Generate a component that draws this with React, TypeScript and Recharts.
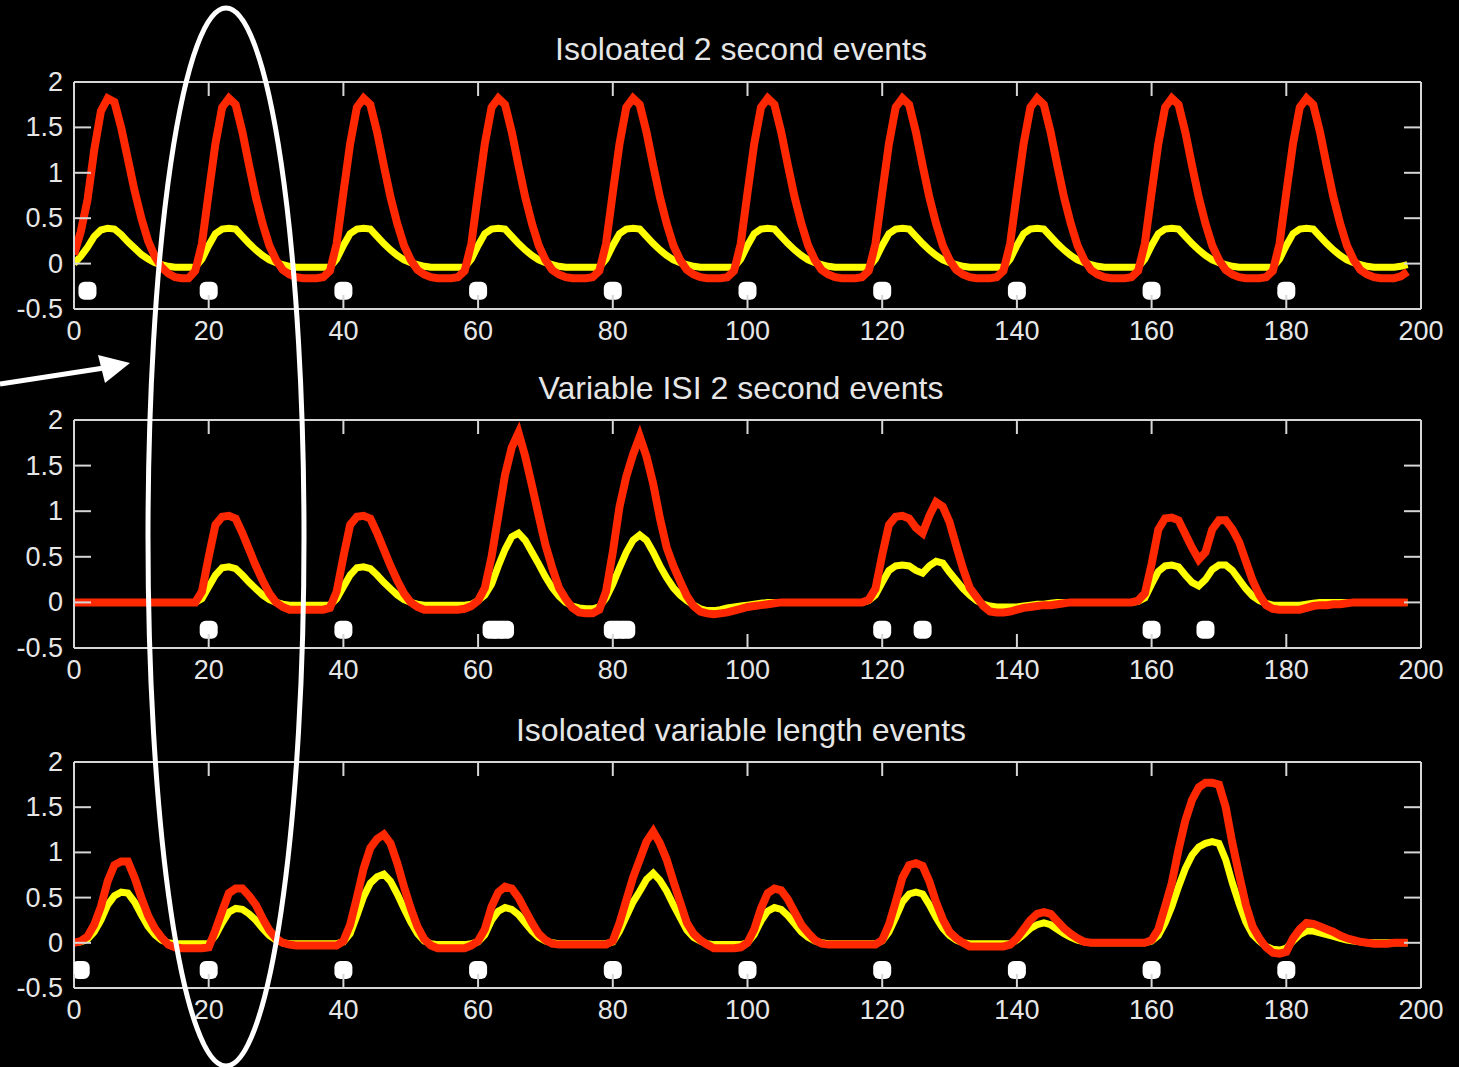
import React from 'react';
import { ComposedChart, Line, Scatter, XAxis, YAxis } from 'recharts';

// sample times are the array index (0..198), one value per second
const RED_ISOLATED = [
  0.1, 0.35, 0.7, 1.25, 1.68, 1.82, 1.78, 1.5, 1.15, 0.8, 0.5, 0.25, 0.08, -0.04, -0.11, -0.15, -0.16, -0.16, -0.08, 0.22,
  0.78, 1.32, 1.72, 1.82, 1.75, 1.45, 1.08, 0.73, 0.44, 0.2, 0.04, -0.07, -0.12, -0.15, -0.16, -0.16, -0.16, -0.15, -0.08, 0.22,
  0.78, 1.32, 1.72, 1.82, 1.75, 1.45, 1.08, 0.73, 0.44, 0.2, 0.04, -0.07, -0.12, -0.15, -0.16, -0.16, -0.16, -0.15, -0.08, 0.22,
  0.78, 1.32, 1.72, 1.82, 1.75, 1.45, 1.08, 0.73, 0.44, 0.2, 0.04, -0.07, -0.12, -0.15, -0.16, -0.16, -0.16, -0.15, -0.08, 0.22,
  0.78, 1.32, 1.72, 1.82, 1.75, 1.45, 1.08, 0.73, 0.44, 0.2, 0.04, -0.07, -0.12, -0.15, -0.16, -0.16, -0.16, -0.15, -0.08, 0.22,
  0.78, 1.32, 1.72, 1.82, 1.75, 1.45, 1.08, 0.73, 0.44, 0.2, 0.04, -0.07, -0.12, -0.15, -0.16, -0.16, -0.16, -0.15, -0.08, 0.22,
  0.78, 1.32, 1.72, 1.82, 1.75, 1.45, 1.08, 0.73, 0.44, 0.2, 0.04, -0.07, -0.12, -0.15, -0.16, -0.16, -0.16, -0.15, -0.08, 0.22,
  0.78, 1.32, 1.72, 1.82, 1.75, 1.45, 1.08, 0.73, 0.44, 0.2, 0.04, -0.07, -0.12, -0.15, -0.16, -0.16, -0.16, -0.15, -0.08, 0.22,
  0.78, 1.32, 1.72, 1.82, 1.75, 1.45, 1.08, 0.73, 0.44, 0.2, 0.04, -0.07, -0.12, -0.15, -0.16, -0.16, -0.16, -0.15, -0.08, 0.22,
  0.78, 1.32, 1.72, 1.82, 1.75, 1.45, 1.08, 0.73, 0.44, 0.2, 0.04, -0.07, -0.12, -0.15, -0.16, -0.16, -0.16, -0.14, -0.09,
];
const YELLOW_ISOLATED = [
  0, 0.08, 0.18, 0.3, 0.37, 0.39, 0.38, 0.32, 0.24, 0.17, 0.1, 0.05, 0.01, -0.01, -0.03, -0.04, -0.04, -0.04, -0.04, 0.05,
  0.2, 0.33, 0.38, 0.39, 0.38, 0.3, 0.22, 0.15, 0.09, 0.04, 0.01, -0.01, -0.03, -0.04, -0.04, -0.04, -0.04, -0.04, -0.04, 0.05,
  0.2, 0.33, 0.38, 0.39, 0.38, 0.3, 0.22, 0.15, 0.09, 0.04, 0.01, -0.01, -0.03, -0.04, -0.04, -0.04, -0.04, -0.04, -0.04, 0.05,
  0.2, 0.33, 0.38, 0.39, 0.38, 0.3, 0.22, 0.15, 0.09, 0.04, 0.01, -0.01, -0.03, -0.04, -0.04, -0.04, -0.04, -0.04, -0.04, 0.05,
  0.2, 0.33, 0.38, 0.39, 0.38, 0.3, 0.22, 0.15, 0.09, 0.04, 0.01, -0.01, -0.03, -0.04, -0.04, -0.04, -0.04, -0.04, -0.04, 0.05,
  0.2, 0.33, 0.38, 0.39, 0.38, 0.3, 0.22, 0.15, 0.09, 0.04, 0.01, -0.01, -0.03, -0.04, -0.04, -0.04, -0.04, -0.04, -0.04, 0.05,
  0.2, 0.33, 0.38, 0.39, 0.38, 0.3, 0.22, 0.15, 0.09, 0.04, 0.01, -0.01, -0.03, -0.04, -0.04, -0.04, -0.04, -0.04, -0.04, 0.05,
  0.2, 0.33, 0.38, 0.39, 0.38, 0.3, 0.22, 0.15, 0.09, 0.04, 0.01, -0.01, -0.03, -0.04, -0.04, -0.04, -0.04, -0.04, -0.04, 0.05,
  0.2, 0.33, 0.38, 0.39, 0.38, 0.3, 0.22, 0.15, 0.09, 0.04, 0.01, -0.01, -0.03, -0.04, -0.04, -0.04, -0.04, -0.04, -0.04, 0.05,
  0.2, 0.33, 0.38, 0.39, 0.38, 0.3, 0.22, 0.15, 0.09, 0.04, 0.01, -0.01, -0.03, -0.04, -0.04, -0.04, -0.04, -0.03, -0.01,
];
const ONSETS_ISOLATED = [2, 20, 40, 60, 80, 100, 120, 140, 160, 180];

const RED_VARIABLE_ISI = [
  0, 0, 0, 0, 0, 0, 0, 0, 0, 0, 0, 0, 0, 0, 0, 0, 0, 0, 0, 0.12,
  0.5, 0.85, 0.94, 0.95, 0.92, 0.76, 0.58, 0.4, 0.24, 0.1, 0, -0.05, -0.08, -0.08, -0.08, -0.08, -0.08, -0.08, -0.06, 0.12,
  0.5, 0.85, 0.94, 0.95, 0.92, 0.76, 0.58, 0.4, 0.24, 0.1, 0, -0.05, -0.08, -0.08, -0.08, -0.08, -0.08, -0.08, -0.07, -0.04,
  0.02, 0.16, 0.5, 0.95, 1.4, 1.7, 1.86, 1.6, 1.28, 0.95, 0.63, 0.38, 0.16, 0.04, -0.06, -0.11, -0.12, -0.12, -0.08, 0.12,
  0.55, 1.05, 1.38, 1.62, 1.82, 1.6, 1.3, 0.92, 0.6, 0.4, 0.23, 0.07, -0.04, -0.1, -0.12, -0.13, -0.12, -0.11, -0.09, -0.07,
  -0.05, -0.04, -0.03, -0.02, -0.01, 0, 0, 0, 0, 0, 0, 0, 0, 0, 0, 0, 0, 0, 0.03, 0.15,
  0.52, 0.85, 0.94, 0.95, 0.92, 0.82, 0.76, 0.95, 1.1, 1.05, 0.88, 0.62, 0.37, 0.16, 0.06, -0.04, -0.1, -0.11, -0.11, -0.1,
  -0.08, -0.06, -0.05, -0.04, -0.03, -0.03, -0.02, -0.01, 0, 0, 0, 0, 0, 0, 0, 0, 0, 0, 0.02, 0.1,
  0.42, 0.8, 0.92, 0.93, 0.9, 0.75, 0.6, 0.47, 0.55, 0.8, 0.9, 0.9, 0.8, 0.66, 0.45, 0.24, 0.08, -0.03, -0.07, -0.08,
  -0.08, -0.08, -0.08, -0.06, -0.04, -0.03, -0.03, -0.02, -0.02, -0.01, 0, 0, 0, 0, 0, 0, 0, 0, 0,
];
const YELLOW_VARIABLE_ISI = [
  0, 0, 0, 0, 0, 0, 0, 0, 0, 0, 0, 0, 0, 0, 0, 0, 0, 0, 0, 0.04,
  0.17, 0.3, 0.38, 0.39, 0.37, 0.3, 0.22, 0.15, 0.08, 0.03, 0, -0.02, -0.03, -0.03, -0.03, -0.03, -0.03, -0.03, -0.03, 0.04,
  0.17, 0.3, 0.38, 0.39, 0.37, 0.3, 0.22, 0.15, 0.08, 0.03, 0, -0.02, -0.03, -0.03, -0.03, -0.03, -0.03, -0.03, -0.03, -0.02,
  0.02, 0.08, 0.2, 0.4, 0.58, 0.72, 0.76, 0.68, 0.55, 0.42, 0.28, 0.16, 0.07, 0, -0.04, -0.06, -0.07, -0.07, -0.05, 0.05,
  0.2, 0.38, 0.55, 0.68, 0.74, 0.68, 0.55, 0.4, 0.27, 0.16, 0.08, 0.02, -0.03, -0.07, -0.09, -0.09, -0.08, -0.06, -0.05, -0.04,
  -0.03, -0.02, -0.01, 0, 0, 0, 0, 0, 0, 0, 0, 0, 0, 0, 0, 0, 0, 0, 0.02, 0.08,
  0.22, 0.35, 0.4, 0.41, 0.4, 0.35, 0.32, 0.4, 0.45, 0.43, 0.33, 0.24, 0.15, 0.08, 0.02, -0.02, -0.04, -0.05, -0.05, -0.05,
  -0.05, -0.04, -0.03, -0.02, -0.02, -0.01, 0, 0, 0, 0, 0, 0, 0, 0, 0, 0, 0, 0, 0.01, 0.05,
  0.2, 0.34, 0.4, 0.41, 0.39, 0.3, 0.22, 0.18, 0.25, 0.36, 0.41, 0.41, 0.35, 0.25, 0.15, 0.07, 0.02, -0.01, -0.03, -0.03,
  -0.03, -0.03, -0.03, -0.02, -0.01, 0, 0, 0, 0, 0, 0, 0, 0, 0, 0, 0, 0, 0, 0,
];
const ONSETS_VARIABLE_ISI = [20, 40, 62, 63, 64, 80, 81, 82, 120, 126, 160, 168];

const RED_VARIABLE_LENGTH = [
  0, 0.02, 0.07, 0.2, 0.4, 0.68, 0.86, 0.9, 0.9, 0.72, 0.5, 0.3, 0.16, 0.06, -0.02, -0.05, -0.06, -0.06, -0.06, -0.06,
  -0.05, 0.14, 0.35, 0.55, 0.6, 0.6, 0.52, 0.42, 0.27, 0.14, 0.05, 0, -0.02, -0.03, -0.03, -0.03, -0.03, -0.03, -0.03, -0.03,
  0.02, 0.2, 0.5, 0.82, 1.05, 1.15, 1.2, 1.1, 0.88, 0.62, 0.38, 0.18, 0.04, -0.03, -0.06, -0.06, -0.06, -0.06, -0.06, -0.03,
  0.02, 0.15, 0.4, 0.56, 0.62, 0.6, 0.5, 0.36, 0.22, 0.1, 0.03, -0.01, -0.02, -0.02, -0.02, -0.02, -0.02, -0.02, -0.02, -0.02,
  0.02, 0.22, 0.47, 0.72, 0.92, 1.12, 1.23, 1.1, 0.92, 0.68, 0.45, 0.22, 0.1, 0.03, -0.02, -0.06, -0.06, -0.06, -0.06, -0.05,
  0, 0.15, 0.38, 0.55, 0.6, 0.58, 0.48, 0.34, 0.2, 0.11, 0.03, -0.01, -0.02, -0.02, -0.02, -0.02, -0.02, -0.02, -0.02, -0.02,
  0.03, 0.2, 0.45, 0.72, 0.86, 0.88, 0.85, 0.68, 0.45, 0.26, 0.12, 0.05, 0, -0.04, -0.04, -0.04, -0.04, -0.04, -0.04, -0.02,
  0.05, 0.15, 0.25, 0.32, 0.34, 0.32, 0.24, 0.16, 0.1, 0.05, 0.01, 0, 0, 0, 0, 0, 0, 0, 0, 0,
  0.03, 0.15, 0.4, 0.66, 1.03, 1.35, 1.58, 1.72, 1.77, 1.77, 1.75, 1.5, 1.1, 0.75, 0.42, 0.18, 0.05, -0.05, -0.11, -0.12,
  -0.1, 0.05, 0.15, 0.22, 0.21, 0.18, 0.15, 0.12, 0.08, 0.05, 0.03, 0.01, 0, -0.01, -0.01, -0.01, 0, 0, 0,
];
const YELLOW_VARIABLE_LENGTH = [
  0, 0.01, 0.04, 0.12, 0.25, 0.42, 0.52, 0.56, 0.55, 0.45, 0.31, 0.18, 0.09, 0.03, 0, -0.01, -0.01, -0.01, -0.01, -0.01,
  -0.01, 0.08, 0.22, 0.34, 0.38, 0.37, 0.32, 0.25, 0.16, 0.08, 0.03, 0, -0.01, -0.01, -0.01, -0.01, -0.01, -0.01, -0.01, -0.01,
  0.01, 0.1, 0.3, 0.51, 0.66, 0.73, 0.76, 0.68, 0.54, 0.38, 0.23, 0.1, 0.02, -0.01, -0.02, -0.02, -0.02, -0.02, -0.02, -0.01,
  0.01, 0.09, 0.25, 0.35, 0.39, 0.37, 0.31, 0.22, 0.13, 0.06, 0.02, 0, -0.01, -0.01, -0.01, -0.01, -0.01, -0.01, -0.01, -0.01,
  0.01, 0.13, 0.29, 0.45, 0.57, 0.7, 0.77, 0.69, 0.57, 0.42, 0.28, 0.14, 0.06, 0.02, -0.01, -0.02, -0.02, -0.02, -0.02, -0.02,
  0, 0.09, 0.24, 0.35, 0.39, 0.37, 0.3, 0.21, 0.12, 0.06, 0.02, 0, -0.01, -0.01, -0.01, -0.01, -0.01, -0.01, -0.01, -0.01,
  0.02, 0.12, 0.28, 0.45, 0.54, 0.56, 0.54, 0.42, 0.28, 0.16, 0.08, 0.03, 0, -0.01, -0.01, -0.01, -0.01, -0.01, -0.01, -0.01,
  0.03, 0.09, 0.16, 0.2, 0.22, 0.2, 0.15, 0.1, 0.06, 0.03, 0.01, 0, 0, 0, 0, 0, 0, 0, 0, 0,
  0.02, 0.08, 0.22, 0.4, 0.62, 0.82, 0.97, 1.06, 1.1, 1.12, 1.1, 0.92, 0.66, 0.43, 0.23, 0.09, 0.02, -0.04, -0.07, -0.08,
  -0.06, 0.02, 0.09, 0.13, 0.13, 0.11, 0.09, 0.07, 0.05, 0.03, 0.02, 0.01, 0, 0, 0, 0, 0, 0, 0,
];
const ONSETS_VARIABLE_LENGTH = [1, 20, 40, 60, 80, 100, 120, 140, 160, 180];

const X_TICKS = [0, 20, 40, 60, 80, 100, 120, 140, 160, 180, 200];
const Y_TICKS = [-0.5, 0, 0.5, 1, 1.5, 2];
const MARKER_LEVEL = -0.3;

const TITLES = ['Isoloated 2 second events', 'Variable ISI 2 second events', 'Isoloated variable length events'];

const AXIS_COLOR = '#d6d6d6';
const LABEL_COLOR = '#e6e6e6';
const FONT = '"Liberation Sans", Arial, sans-serif';

const axisLine = { stroke: AXIS_COLOR, strokeWidth: 2 };

const BottomTick = (p: any) => (
  <g>
    <line x1={p.x} x2={p.x} y1={p.y} y2={p.y - 14} stroke={AXIS_COLOR} strokeWidth={2} />
    <text x={p.x} y={p.y + 22} textAnchor="middle" dominantBaseline="central" fill={LABEL_COLOR} fontSize={27} fontFamily={FONT}>
      {p.payload.value}
    </text>
  </g>
);
const TopTick = (p: any) => <line x1={p.x} x2={p.x} y1={p.y} y2={p.y + 14} stroke={AXIS_COLOR} strokeWidth={2} />;
const LeftTick = (p: any) => (
  <g>
    <line x1={p.x} x2={p.x + 17} y1={p.y} y2={p.y} stroke={AXIS_COLOR} strokeWidth={2} />
    <text x={p.x - 11} y={p.y} textAnchor="end" dominantBaseline="central" fill={LABEL_COLOR} fontSize={27} fontFamily={FONT}>
      {p.payload.value}
    </text>
  </g>
);
const RightTick = (p: any) => <line x1={p.x} x2={p.x - 17} y1={p.y} y2={p.y} stroke={AXIS_COLOR} strokeWidth={2} />;

const Marker = (p: any) => <rect x={p.cx - 9} y={p.cy - 9} width={18} height={18} rx={6} fill="#ffffff" />;

interface PanelProps {
  top: number;
  plotH: number;
  red: number[];
  yellow: number[];
  onsets: number[];
}

const Panel: React.FC<PanelProps> = ({ top, plotH, red, yellow, onsets }) => {
  const rows = red.map((r, i) => ({ t: i, red: r, yellow: yellow[i] }));
  const marks = onsets.map((t) => ({ t, y: MARKER_LEVEL }));
  return (
    <div style={{ position: 'absolute', left: 0, top }}>
      <ComposedChart width={1459} height={20 + plotH + 50} data={rows} margin={{ top: 19, right: 37, bottom: 0, left: 0 }}>
        <XAxis xAxisId="b" dataKey="t" type="number" domain={[0, 200]} ticks={X_TICKS} interval={0} allowDataOverflow
          height={50} tickSize={0} tickMargin={0} axisLine={axisLine} tickLine={false} tick={BottomTick} />
        <XAxis xAxisId="t" orientation="top" dataKey="t" type="number" domain={[0, 200]} ticks={X_TICKS} interval={0} allowDataOverflow
          height={1} tickSize={0} tickMargin={0} axisLine={axisLine} tickLine={false} tick={TopTick} />
        <YAxis yAxisId="l" type="number" domain={[-0.5, 2]} ticks={Y_TICKS} interval={0} allowDataOverflow
          width={74} tickSize={0} tickMargin={0} axisLine={axisLine} tickLine={false} tick={LeftTick} />
        <YAxis yAxisId="r" orientation="right" type="number" domain={[-0.5, 2]} ticks={Y_TICKS} interval={0} allowDataOverflow
          width={1} tickSize={0} tickMargin={0} axisLine={axisLine} tickLine={false} tick={RightTick} />
        <Line xAxisId="b" yAxisId="l" type="linear" dataKey="yellow" stroke="#ffff00" strokeWidth={7} dot={false} isAnimationActive={false} />
        <Line xAxisId="b" yAxisId="l" type="linear" dataKey="red" stroke="#ff2800" strokeWidth={8} dot={false} isAnimationActive={false} />
        <Scatter xAxisId="b" yAxisId="l" data={marks} dataKey="y" shape={Marker} isAnimationActive={false} />
      </ComposedChart>
    </div>
  );
};

export default function App() {
  return (
    <div style={{ position: 'absolute', left: 0, top: 0, width: 1459, height: 1067, background: '#000', overflow: 'hidden' }}>
      <Panel top={62} plotH={227} red={RED_ISOLATED} yellow={YELLOW_ISOLATED} onsets={ONSETS_ISOLATED} />
      <Panel top={400} plotH={228} red={RED_VARIABLE_ISI} yellow={YELLOW_VARIABLE_ISI} onsets={ONSETS_VARIABLE_ISI} />
      <Panel top={742} plotH={226} red={RED_VARIABLE_LENGTH} yellow={YELLOW_VARIABLE_LENGTH} onsets={ONSETS_VARIABLE_LENGTH} />
      <svg width={1459} height={1067} style={{ position: 'absolute', left: 0, top: 0, pointerEvents: 'none' }}>
        <text x={741} y={60} textAnchor="middle" fill={LABEL_COLOR} fontSize={32} fontFamily={FONT}>{TITLES[0]}</text>
        <text x={741} y={399} textAnchor="middle" fill={LABEL_COLOR} fontSize={32} fontFamily={FONT}>{TITLES[1]}</text>
        <text x={741} y={741} textAnchor="middle" fill={LABEL_COLOR} fontSize={32} fontFamily={FONT}>{TITLES[2]}</text>
        <ellipse cx={226} cy={537} rx={78} ry={529} fill="none" stroke="#ffffff" strokeWidth={5} />
        <line x1={0} y1={384} x2={104} y2={368} stroke="#ffffff" strokeWidth={5} />
        <polygon points="130,363 98,355 105,383" fill="#ffffff" />
      </svg>
    </div>
  );
}
